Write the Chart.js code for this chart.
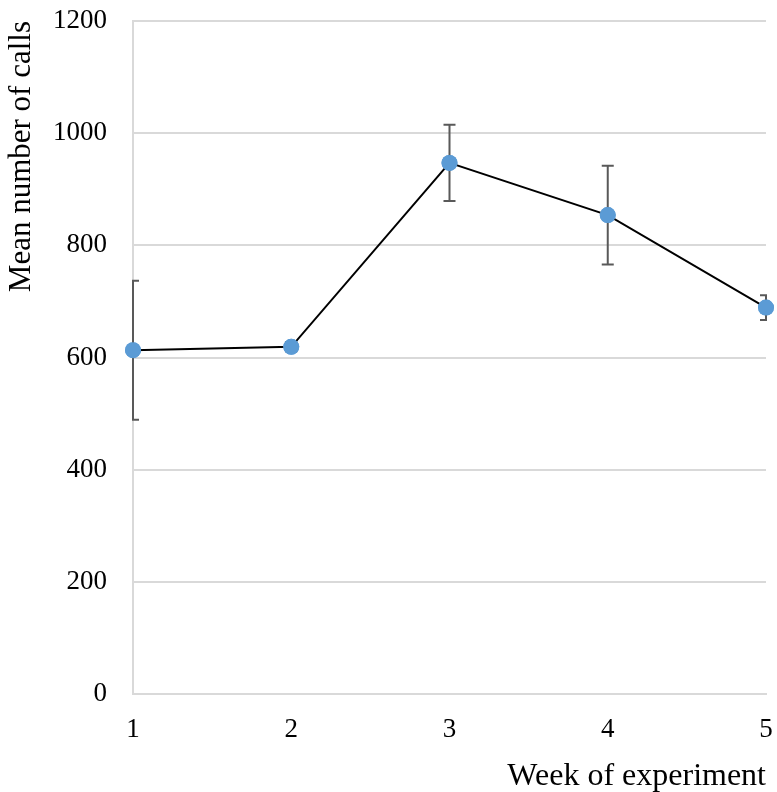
<!DOCTYPE html>
<html>
<head>
<meta charset="utf-8">
<script src="https://cdn.jsdelivr.net/npm/chart.js@4/dist/chart.umd.min.js"></script>
<style>
  html, body { margin: 0; padding: 0; background: #fff; }
  #wrap { width: 777px; height: 792px; }
</style>
</head>
<body>
<div id="wrap"><canvas id="grafico"></canvas></div>
<script>
// datos
const semanas = ['1', '2', '3', '4', '5'];
const mediaLlamadas = [613, 619, 947, 854, 689];
const errorLlamadas = [124, 8, 68, 88, 22];
const ticksY = [0, 200, 400, 600, 800, 1000, 1200];

const fuente = "'Liberation Serif', 'Times New Roman', serif";

// barras de error dibujadas con las escalas del grafico
const barrasError = {
  id: 'barrasError',
  afterDatasetsDraw(chart) {
    const ctx = chart.ctx;
    const xs = chart.scales.x;
    const ys = chart.scales.y;
    const area = chart.chartArea;
    ctx.save();
    ctx.beginPath();
    ctx.rect(area.left - 1, area.top - 5, area.right - area.left + 2, area.bottom - area.top + 10);
    ctx.clip();
    ctx.strokeStyle = '#595959';
    ctx.lineWidth = 2;
    mediaLlamadas.forEach(function (v, i) {
      const x = xs.getPixelForValue(i);
      const yA = ys.getPixelForValue(v + errorLlamadas[i]);
      const yB = ys.getPixelForValue(v - errorLlamadas[i]);
      ctx.beginPath();
      ctx.moveTo(x, yA); ctx.lineTo(x, yB);
      ctx.moveTo(x - 6, yA); ctx.lineTo(x + 6, yA);
      ctx.moveTo(x - 6, yB); ctx.lineTo(x + 6, yB);
      ctx.stroke();
    });
    ctx.restore();
    // redibujar los puntos encima
    chart.getDatasetMeta(0).data.forEach(function (p) {
      ctx.save();
      ctx.fillStyle = '#5b9bd5';
      ctx.beginPath();
      ctx.arc(p.x, p.y, 8, 0, Math.PI * 2);
      ctx.fill();
      ctx.restore();
    });
  }
};

const ctx = document.getElementById('grafico').getContext('2d');
new Chart(ctx, {
  type: 'line',
  data: {
    labels: semanas,
    datasets: [{
      data: mediaLlamadas,
      borderColor: '#000000',
      borderWidth: 2,
      pointRadius: 8,
      pointBackgroundColor: '#5b9bd5',
      pointBorderWidth: 0,
      tension: 0,
      clip: false
    }]
  },
  options: {
    responsive: true,
    maintainAspectRatio: false,
    animation: false,
    layout: { autoPadding: false, padding: { top: 21, right: 11, left: 0, bottom: 0 } },
    plugins: { legend: { display: false }, tooltip: { enabled: false } },
    scales: {
      x: {
        type: 'category',
        offset: false,
        grid: { display: false, drawTicks: false },
        border: { color: '#d9d9d9', width: 2 },
        ticks: { color: '#000', font: { family: fuente, size: 27 }, padding: 20, maxRotation: 0 },
        title: {
          display: true, text: 'Week of experiment', align: 'end',
          color: '#000', font: { family: fuente, size: 32 }, padding: { top: 0, bottom: -4 }
        },
        afterFit: function (s) { s.height = 98; s.paddingLeft = 0; s.paddingRight = 0; }
      },
      y: {
        min: 0, max: 1200,
        afterBuildTicks: function (s) { s.ticks = ticksY.map(v => ({ value: v })); },
        grid: { color: '#d9d9d9', lineWidth: 2, drawTicks: false },
        border: { color: '#d9d9d9', width: 2 },
        ticks: {
          color: '#000', font: { family: fuente, size: 27 }, padding: 26,
          callback: function (v) { return String(v); }
        },
        title: {
          display: true, text: 'Mean number of calls', align: 'end',
          color: '#000', font: { family: fuente, size: 31 }, padding: { top: 3 }
        },
        afterFit: function (s) { s.width = 133; s.paddingTop = 0; s.paddingBottom = 0; }
      }
    }
  },
  plugins: [barrasError]
});
</script>
</body>
</html>
